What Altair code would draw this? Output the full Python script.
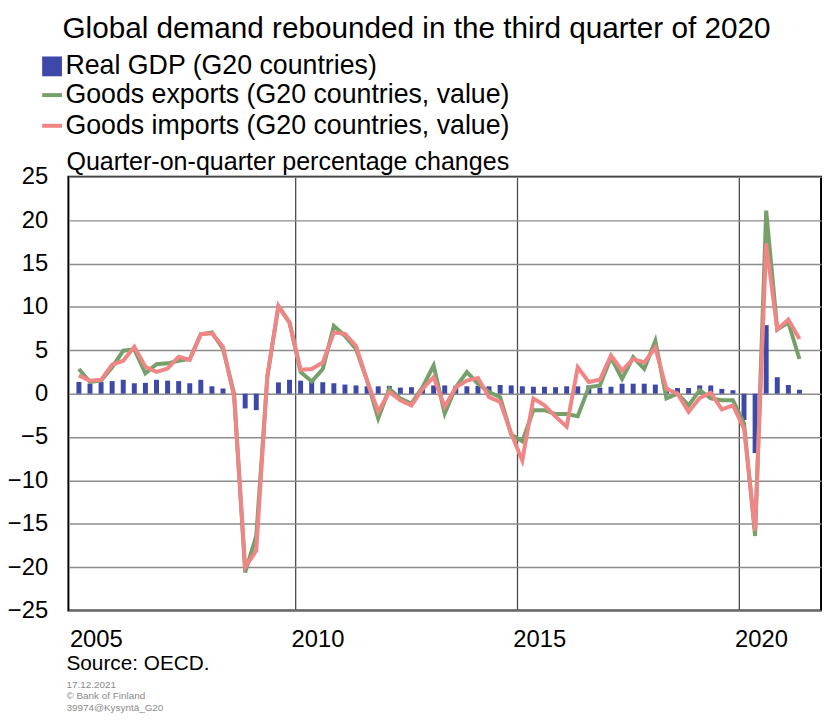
import altair as alt
import pandas as pd

FONT = "Liberation Sans, Arial, sans-serif"
BLUE = "#3d48a8"
GREEN = "#76a06a"
PINK = "#ef8585"

SER_GDP = "Real GDP (G20 countries)"
SER_EXP = "Goods exports (G20 countries, value)"
SER_IMP = "Goods imports (G20 countries, value)"

years = list(range(2005, 2022))
quarters = [f"{y}Q{q}" for y in years for q in (1, 2, 3, 4)][:66]

gdp = [1.35, 1.15, 1.35, 1.45, 1.6, 1.2, 1.25, 1.6, 1.5, 1.45, 1.2, 1.6,
       0.85, 0.6, 0.05, -1.7, -1.9, 0.05, 1.3, 1.6, 1.5, 1.6,
       1.33, 1.2, 1.05, 0.95, 0.85, 0.85, 0.9, 0.7, 0.75, 0.75, 0.95, 0.95,
       0.9, 0.85, 0.9, 0.85, 1.0, 0.95, 0.85, 0.8, 0.8, 0.75, 0.85,
       0.85, 0.95, 0.7, 0.8, 1.15, 1.15, 1.15, 1.05, 0.75, 0.65, 0.65, 0.95,
       0.95, 0.55, 0.4, -3.05, -6.85, 7.9, 1.9, 1.0, 0.45]

exports = [2.85, 1.35, 1.5, 3.05, 4.95, 5.1, 2.35, 3.4, 3.5, 3.8, 4.0, 6.85,
           7.05, 5.15, 0.0, -20.6, -16.4, 1.9, 10.1, 8.2, 2.5, 1.4,
           2.85, 7.8, 6.65, 5.15, 1.5, -2.85, 0.55, -0.55, -1.15, 0.75, 3.25, -2.3,
           0.75, 2.5, 1.15, 0.2, -0.4, -4.7, -5.5, -1.9, -1.9, -2.35, -2.35,
           -2.6, 0.75, 0.95, 4.2, 1.7, 4.2, 2.85, 6.1, -0.55, 0.0, -1.35, 0.4,
           -0.55, -0.75, -0.75, -3.4, -16.4, 21.1, 7.4, 8.2, 4.0]

imports = [2.1, 1.5, 1.6, 3.35, 3.8, 5.4, 3.1, 2.5, 2.9, 4.25, 3.9, 6.85,
           6.95, 5.4, -0.4, -20.0, -18.1, 2.1, 10.1, 8.2, 2.75, 2.85,
           3.6, 7.05, 6.9, 5.5, 1.5, -2.1, 0.2, -0.75, -1.35, 0.55, 1.9, -1.5,
           0.75, 1.5, 1.8, -0.4, -0.95, -4.6, -7.7, -0.55, -1.35, -2.65, -3.8,
           3.05, 1.35, 1.6, 4.4, 2.65, 4.0, 3.6, 5.3, 0.55, 0.0, -2.1, -0.5,
           0.1, -1.8, -1.35, -4.0, -15.8, 17.3, 7.4, 8.55, 6.3]

x_ticks = [2005, 2010, 2015, 2020]
y_ticks = [-25, -20, -15, -10, -5, 0, 5, 10, 15, 20, 25]


def qpos(label):
    return int(label[:4]) + (int(label[-1]) - 1) / 4 + 0.125


t = [qpos(q) for q in quarters]
bars_df = pd.DataFrame({"quarter": quarters, "t": t, "value": gdp, "series": SER_GDP})
lines_df = pd.concat([
    pd.DataFrame({"quarter": quarters, "t": t, "value": exports, "series": SER_EXP}),
    pd.DataFrame({"quarter": quarters, "t": t, "value": imports, "series": SER_IMP}),
])

W, H = 760, 438
half_year_px = W / 16.75 / 2

x_enc = alt.X("t:Q",
              scale=alt.Scale(domain=[2005, 2021.75], nice=False, zero=False),
              axis=alt.Axis(values=x_ticks, format="d", title=None, grid=True,
                            gridColor="#4a4a4a", gridWidth=1.3,
                            gridOpacity=alt.condition("datum.value == 2005", alt.value(0), alt.value(1)),
                            ticks=False, domain=False,
                            labelFontSize=24, labelFont=FONT, labelColor="black",
                            labelPadding=17, labelOffset=half_year_px, labelAlign="center"))
y_enc = alt.Y("value:Q",
              scale=alt.Scale(domain=[-25, 25], nice=False),
              axis=alt.Axis(values=y_ticks, title=None, grid=True, gridColor="#8c8c8c",
                            gridWidth=1.5, ticks=False, domain=False, labelFontSize=24,
                            labelFont=FONT, labelColor="black", labelPadding=21))

bars = alt.Chart(bars_df).mark_bar(size=5).encode(
    x=x_enc, y=y_enc,
    fill=alt.Fill("series:N", scale=alt.Scale(domain=[SER_GDP], range=[BLUE]),
                  legend=alt.Legend(orient="none", legendX=-30, legendY=-125, title=None,
                                    symbolType="square", symbolSize=400, symbolStrokeWidth=0,
                                    labelFontSize=27, labelFont=FONT, labelColor="black",
                                    labelLimit=0, padding=0, labelOffset=0)),
)

stroke_enc = alt.Stroke("series:N",
                        scale=alt.Scale(domain=[SER_EXP, SER_IMP], range=[GREEN, PINK]),
                        legend=alt.Legend(orient="none", legendX=-30, legendY=-96, title=None,
                                          symbolType="stroke", symbolSize=400,
                                          symbolStrokeWidth=4, labelFontSize=27,
                                          labelFont=FONT, labelColor="black", labelLimit=0,
                                          padding=0, rowPadding=3, labelOffset=0))

line_exp = alt.Chart(lines_df).transform_filter(alt.datum.series == SER_EXP).mark_line(
    strokeWidth=4).encode(x="t:Q", y="value:Q", stroke=stroke_enc)
line_imp = alt.Chart(lines_df).transform_filter(alt.datum.series == SER_IMP).mark_line(
    strokeWidth=4).encode(x="t:Q", y="value:Q", stroke=stroke_enc)


def label(text, x, y, size, color="black", baseline="middle"):
    return alt.Chart(alt.Data(values=[{}])).mark_text(
        text=text, align="left", baseline=baseline, fontSize=size, font=FONT, color=color
    ).encode(x=alt.value(x), y=alt.value(y))


texts = [
    label("Global demand rebounded in the third quarter of 2020", -6, -140, 30,
          baseline="alphabetic"),
    label("Quarter-on-quarter percentage changes", -2, -15, 25.3),
    label("Source: OECD.", -2, 492, 21),
    label("17.12.2021", -2, 513, 10, "#8a8a8a"),
    label("© Bank of Finland", -2, 524, 10, "#8a8a8a"),
    label("39974@Kysyntä_G20", -2, 536, 10, "#8a8a8a"),
]

chart = alt.layer(bars, line_exp, line_imp, *texts).properties(
    width=W, height=H,
    padding={"left": 61, "top": 167, "right": 2, "bottom": 100},
    autosize=alt.AutoSizeParams(type="none"),
).configure_view(stroke="black", strokeWidth=2)

chart.save("out.html", embed_options={"renderer": "svg", "actions": False})
